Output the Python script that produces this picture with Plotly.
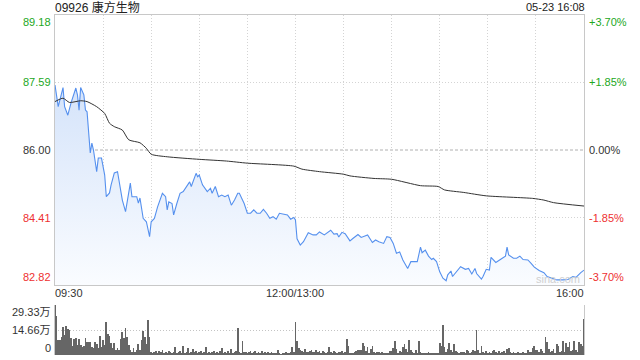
import plotly.graph_objects as go

TITLE = "09926 康方生物"
STAMP = "05-23 16:08"
PREV_CLOSE = 86.00
PRICE_TICKS = [89.18, 87.59, 86.00, 84.41, 82.82]
PCT_LABELS = ["+3.70%", "+1.85%", "0.00%", "-1.85%", "-3.70%"]
TICK_COLORS = ["#22a722", "#22a722", "#333333", "#ee3030", "#ee3030"]
TIME_TICKS = [0, 150, 330]
TIME_LABELS = ["09:30", "12:00/13:00", "16:00"]
VOL_TICKS = [29.33, 14.66, 0]
VOL_LABELS = ["29.33万", "14.66万", "0"]

# minute index since 09:30 (lunch break removed)
price_min = [0, 2, 5, 6, 8, 10, 13, 14, 15, 16,
             18, 19, 20, 21, 22, 23, 24, 26, 27, 29,
             31, 32, 34, 35, 37, 39, 42, 44, 47, 48,
             51, 52, 53, 55, 57, 59, 60, 62, 64, 67,
             69, 70, 71, 73, 74, 76, 78, 80, 82, 84,
             85, 88, 89, 90, 92, 95, 97, 98, 100, 102,
             104, 106, 108, 110, 112, 114, 115, 118, 120, 122,
             124, 126, 128, 130, 132, 134, 136, 138, 140, 143,
             145, 147, 149, 150, 151, 153, 155, 158, 161, 163,
             165, 168, 172, 174, 176, 177, 179, 181, 184, 186,
             189, 191, 193, 195, 198, 200, 202, 205, 207, 209,
             211, 213, 215, 217, 220, 222, 224, 226, 228, 229,
             231, 233, 235, 236, 238, 240, 242, 244, 245, 247,
             248, 251, 253, 256, 258, 260, 262, 263, 266, 267,
             269, 271, 272, 275, 277, 279, 281, 282, 283, 286,
             288, 290, 292, 295, 297, 299, 302, 305, 307, 310,
             313, 317, 320, 323, 325, 328, 330]
price = [87.53, 87.02, 87.47, 87.02, 86.82, 87.11, 87.46, 87.30, 86.94, 87.47,
         87.30, 86.94, 86.90, 86.35, 85.93, 86.16, 86.00, 85.49, 85.81, 85.81,
         85.41, 84.90, 84.99, 85.18, 85.46, 85.49, 84.82, 84.55, 85.22, 84.90,
         84.90, 84.75, 84.87, 84.39, 84.31, 83.96, 84.31, 84.39, 84.66, 84.98,
         84.90, 84.59, 84.78, 84.74, 84.47, 84.74, 84.98, 85.02, 85.14, 85.25,
         85.14, 85.45, 85.37, 85.41, 85.18, 85.02, 85.10, 84.98, 85.14, 84.90,
         84.94, 84.90, 84.94, 84.70, 84.82, 84.98, 84.98, 84.74, 84.51, 84.51,
         84.59, 84.51, 84.51, 84.60, 84.51, 84.39, 84.43, 84.37, 84.51, 84.49,
         84.47, 84.37, 84.41, 84.35, 83.91, 83.76, 83.84, 84.05, 84.00, 84.00,
         84.07, 84.00, 84.11, 84.02, 84.03, 83.95, 84.06, 84.03, 83.86, 83.92,
         84.01, 83.94, 83.97, 84.00, 83.82, 83.88, 83.84, 83.80, 83.96, 83.94,
         83.80, 83.57, 83.60, 83.41, 83.21, 83.37, 83.37, 83.37, 83.71, 83.58,
         83.64, 83.50, 83.42, 83.45, 83.37, 83.13, 82.98, 82.92, 83.06, 83.15,
         83.02, 83.17, 83.25, 83.19, 83.21, 83.08, 83.21, 83.09, 82.96, 83.02,
         83.19, 83.17, 83.47, 83.35, 83.41, 83.45, 83.50, 83.71, 83.53, 83.45,
         83.45, 83.50, 83.42, 83.41, 83.33, 83.24, 83.16, 83.11, 83.02, 82.98,
         82.94, 82.94, 82.95, 83.02, 83.00, 83.11, 83.17]

avg_min = [0, 5, 9, 16, 20, 26, 31, 34, 37, 42,
           46, 53, 57, 60, 70, 90, 107, 120, 149, 154,
           165, 180, 184, 199, 210, 228, 239, 243, 255, 269,
           298, 305, 311, 330]
avg = [87.14, 87.22, 87.12, 87.16, 87.14, 87.02, 86.86, 86.63, 86.55, 86.47,
       86.24, 86.17, 86.04, 85.90, 85.84, 85.78, 85.74, 85.69, 85.62, 85.55,
       85.49, 85.43, 85.39, 85.33, 85.31, 85.16, 85.14, 85.06, 85.00, 84.92,
       84.86, 84.82, 84.76, 84.68]

# volume per minute, in 万
volume = [29.3, 23.1, 9.0, 8.8, 10.8, 16.2, 11.7, 17.2, 15.2, 14.7,
          9.8, 5.3, 9.4, 10.2, 5.9, 9.4, 5.9, 4.9, 5.3, 10.2,
          7.8, 7.4, 7.4, 4.9, 3.9, 7.8, 6.3, 3.9, 11.3, 4.9,
          8.8, 5.9, 19.6, 12.1, 11.3, 6.8, 3.9, 6.8, 2.9, 3.9,
          2.9, 9.2, 13.7, 9.8, 15.6, 10.8, 5.9, 2.9, 2.0, 3.9,
          1.5, 2.9, 6.3, 2.9, 8.8, 14.1, 10.8, 6.3, 20.5, 10.8,
          2.0, 1.2, 1.8, 2.2, 1.0, 2.5, 1.5, 2.8, 1.3, 2.0,
          1.1, 2.4, 1.6, 1.0, 1.8, 4.9, 1.2, 1.5, 2.6, 1.0,
          5.3, 1.4, 2.0, 4.3, 1.2, 1.8, 3.5, 1.5, 2.2, 1.0,
          1.6, 2.5, 1.3, 1.8, 4.9, 1.2, 2.0, 1.1, 1.5, 2.3,
          1.0, 1.8, 1.4, 2.2, 3.9, 1.2, 1.6, 1.0, 2.1, 1.4,
          3.5, 1.2, 1.8, 2.5, 15.6, 1.5, 1.0, 8.2, 1.6, 2.0,
          1.1, 1.5, 2.4, 1.0, 1.7, 2.2, 1.3, 1.8, 1.0, 2.6,
          1.4, 1.9, 1.0, 1.5, 0.8, 2.0, 1.2, 0.6, 1.0, 2.9,
          1.2, 0.5, 1.0, 0.8, 1.5, 0.6, 1.2, 2.0, 4.9, 1.5,
          19.6, 8.2, 4.3, 3.0, 2.5, 2.0, 3.5, 1.8, 1.5, 2.2,
          2.8, 1.6, 2.0, 3.0, 1.5, 2.2, 1.0, 2.6, 1.8, 1.2,
          2.0, 4.6, 1.5, 1.2, 2.4, 1.8, 1.0, 2.0, 1.6, 2.5,
          1.2, 1.8, 9.5, 5.5, 1.0, 1.4, 0.8, 1.6, 2.2, 3.0,
          2.8, 3.2, 6.9, 5.5, 2.6, 4.6, 1.2, 3.6, 5.0, 1.6,
          1.2, 2.0, 1.5, 1.0, 1.8, 0.8, 1.4, 1.0, 0.6, 2.6,
          2.6, 4.0, 8.1, 3.5, 1.2, 2.6, 1.6, 4.6, 6.5, 3.6,
          1.5, 8.9, 3.0, 1.6, 1.0, 3.0, 1.2, 8.1, 1.6, 1.0,
          1.4, 0.8, 1.2, 1.6, 1.0, 0.8, 1.4, 1.2, 0.6, 1.0,
          6.9, 5.5, 17.4, 4.5, 2.0, 3.6, 6.9, 3.0, 1.6, 6.5,
          2.5, 1.6, 1.0, 1.6, 2.0, 1.5, 1.0, 3.0, 2.2, 1.2,
          1.5, 3.0, 2.5, 14.5, 3.0, 1.0, 5.0, 1.6, 1.0, 2.5,
          1.4, 2.0, 1.0, 2.6, 3.0, 1.6, 1.2, 2.5, 0.8, 2.0,
          2.5, 1.2, 3.6, 4.2, 1.5, 1.0, 1.6, 1.2, 0.6, 1.8,
          0.8, 1.0, 1.5, 0.6, 1.2, 3.0, 1.6, 2.0, 4.2, 5.0,
          3.0, 2.8, 1.6, 3.6, 2.5, 1.2, 10.5, 7.5, 3.5, 1.6,
          2.6, 3.6, 1.2, 6.5, 5.5, 1.6, 2.6, 8.1, 2.0, 6.9,
          4.6, 7.5, 2.6, 3.0, 8.1, 2.8, 1.6, 7.5, 6.5, 5.5,
          21.0]

W, H = 640, 360
FONT = "Liberation Sans, Arial, Noto Sans CJK SC, sans-serif"
xmax = TIME_TICKS[-1]

def px(v):
    return v / W

def py(v):
    return (H - v) / H

fig = go.Figure()

# baseline for gradient fill
fig.add_trace(go.Scatter(x=[0, xmax], y=[PRICE_TICKS[-1]] * 2, mode="lines",
                         line=dict(width=0, color="rgba(0,0,0,0)"),
                         hoverinfo="skip", showlegend=False, xaxis="x", yaxis="y"))
fig.add_trace(go.Scatter(x=price_min, y=price, mode="lines", fill="tonexty",
                         fillgradient=dict(type="vertical", start=PRICE_TICKS[-1], stop=87.6,
                                           colorscale=[[0, "rgba(250,252,255,1)"],
                                                       [1, "rgba(212,227,250,1)"]]),
                         line=dict(color="#5590ee", width=1.1),
                         showlegend=False, xaxis="x", yaxis="y"))
fig.add_trace(go.Scatter(x=avg_min, y=avg, mode="lines",
                         line=dict(color="#333333", width=1, shape="spline", smoothing=0.6),
                         showlegend=False, xaxis="x", yaxis="y"))
fig.add_trace(go.Bar(x=list(range(len(volume))), y=volume, width=0.5,
                     marker=dict(color="#666666", line=dict(width=0)),
                     showlegend=False, xaxis="x2", yaxis="y2"))

main_dom = [py(285), py(15)]
vol_dom = [py(355), py(305)]
x_dom = [px(55), px(584)]
grid_c = "#d4d4d4"
dotted = "1px,2px"

fig.update_layout(
    width=W, height=H, margin=dict(l=0, r=0, t=0, b=0),
    paper_bgcolor="white", plot_bgcolor="white",
    font=dict(family=FONT, size=11, color="#333"),
    xaxis=dict(domain=x_dom, range=[0, xmax], tickvals=list(range(30, xmax, 30)),
               showticklabels=False, ticks="", showgrid=True, gridcolor=grid_c,
               griddash=dotted, gridwidth=1, zeroline=False,
               showline=True, linecolor="#c8c8c8", linewidth=1, mirror=True),
    yaxis=dict(domain=main_dom, range=[PRICE_TICKS[-1], PRICE_TICKS[0]],
               tickvals=[PRICE_TICKS[1], PRICE_TICKS[3]], showticklabels=False, ticks="",
               showgrid=True, gridcolor=grid_c, griddash=dotted, gridwidth=1, zeroline=False,
               showline=True, linecolor="#c8c8c8", linewidth=1, mirror=True),
    xaxis2=dict(domain=x_dom, range=[0, xmax], anchor="y2", showticklabels=False,
                ticks="", showgrid=False, zeroline=False, showline=False),
    yaxis2=dict(domain=vol_dom, range=[0, VOL_TICKS[0]], anchor="x2",
                tickvals=VOL_TICKS[:2], showticklabels=False, ticks="",
                showgrid=True, gridcolor="#c4c4c4", griddash=dotted, gridwidth=1,
                zeroline=False, showline=True, linecolor="#c8c8c8", linewidth=1, mirror=True),
    bargap=0,
)

fig.add_shape(type="line", xref="x", yref="y", x0=0, x1=xmax, y0=PREV_CLOSE, y1=PREV_CLOSE,
              line=dict(color="#b0b0b0", width=1, dash="3px,2px"), layer="below")

ann = []
shifts = [-7, 0, 0, 0, 8]
for v, pct, c, s in zip(PRICE_TICKS, PCT_LABELS, TICK_COLORS, shifts):
    ann.append(dict(xref="paper", yref="y", x=px(53), y=v, yshift=s, text=f"{v:.2f}",
                    xanchor="right", yanchor="middle", showarrow=False,
                    font=dict(size=11, color=c)))
    ann.append(dict(xref="paper", yref="y", x=px(587), y=v, yshift=s, text=pct,
                    xanchor="left", yanchor="middle", showarrow=False,
                    font=dict(size=11, color=c)))
for t, lab, xa in zip(TIME_TICKS, TIME_LABELS, ["left", "center", "right"]):
    ann.append(dict(xref="x", yref="paper", x=t, y=py(293), text=lab, xanchor=xa,
                    yanchor="middle", showarrow=False, font=dict(size=11, color="#333"),
                    xshift=(-2 if xa == "left" else (2 if xa == "right" else 0))))
vshifts = [-7, 0, 7]
for v, lab, s in zip(VOL_TICKS, VOL_LABELS, vshifts):
    ann.append(dict(xref="paper", yref="y2", x=px(53), y=v, yshift=s, text=lab,
                    xanchor="right", yanchor="middle", showarrow=False,
                    font=dict(size=11, color="#333")))
ann.append(dict(xref="paper", yref="paper", x=px(53), y=py(7), text=TITLE, xanchor="left",
                yanchor="middle", showarrow=False, font=dict(size=12, color="#222")))
ann.append(dict(xref="paper", yref="paper", x=px(587), y=py(7), text=STAMP, xanchor="right",
                yanchor="middle", showarrow=False, font=dict(size=11, color="#222")))
ann.append(dict(xref="paper", yref="paper", x=px(582), y=py(279), text="sina.com",
                xanchor="right", yanchor="middle", showarrow=False,
                font=dict(size=11, color="#d0d0d0")))
fig.update_layout(annotations=ann)

fig.write_html("out.html")
